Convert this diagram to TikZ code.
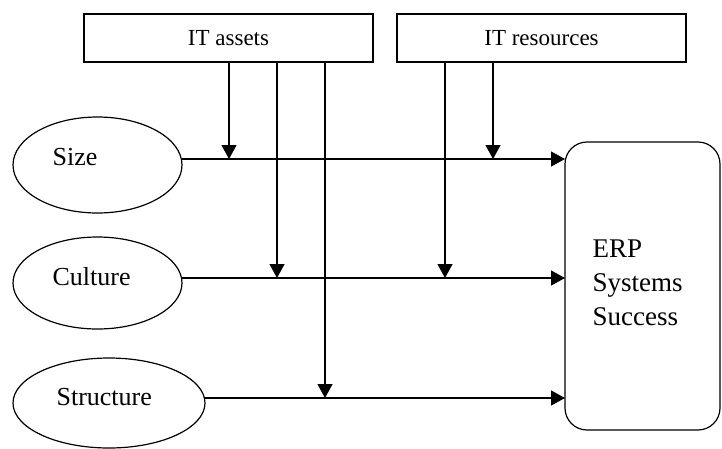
\documentclass[tikz,border=0pt]{standalone}
\usepackage{fontspec}
\setmainfont{Liberation Serif}
\usetikzlibrary{shapes.geometric,arrows.meta,calc}

\begin{document}
\begin{tikzpicture}[x=1pt,y=-1pt,
  line width=1.2pt,
  topbox/.style={draw, rectangle, inner sep=0pt, outer sep=0pt,
    font=\fontsize{23}{27}\selectfont},
  factor/.style={draw, ellipse, inner sep=0pt, outer sep=0pt},
  lbl/.style={inner sep=0pt, anchor=base west, font=\fontsize{26}{30}\selectfont},
  outcome/.style={draw, rectangle, rounded corners=22pt, inner sep=0pt, outer sep=0pt},
  arr/.style={-{Triangle[length=14pt,width=15pt]}}
]
\useasboundingbox (0,0) rectangle (722,448);

% moderating boxes on top
\node[topbox, minimum width=289, minimum height=48] (assets) at (228.5,38) {IT assets};
\node[topbox, minimum width=289, minimum height=48] (res) at (541.5,38) {IT resources};

% organisational factors
\node[factor, minimum width=169, minimum height=96] (size) at (97.5,165) {};
\node[factor, minimum width=169, minimum height=92] (cult) at (97.5,283) {};
\node[factor, minimum width=192, minimum height=90] (struc) at (109,403) {};
\node[lbl] (sizet) at (52,165) {Size};
\node[lbl] (cultt) at (52,285) {Culture};
\node[lbl] (struct) at (56,405) {Structure};

% outcome box
\node[outcome, minimum width=155, minimum height=288] (erp) at (642.5,286) {};
\node[inner sep=0pt, align=left, anchor=north west,
  font=\fontsize{27}{34}\selectfont] (erpt) at (592,239) {ERP\\Systems\\Success};

% line heights of the three paths
\coordinate (ysize) at (0,159);
\coordinate (ycult) at (0,278);
\coordinate (ystruc) at (0,398);

% main paths into the outcome box
\draw[arr] (size.east |- ysize) -- (erp.west |- ysize);
\draw[arr] (cult.east |- ycult) -- (erp.west |- ycult);
\draw[arr] (struc.east |- ystruc) -- (erp.west |- ystruc);

% moderating effects
\coordinate (a1) at (229,62);
\coordinate (a2) at (277,62);
\coordinate (a3) at (325,62);
\coordinate (r1) at (445,62);
\coordinate (r2) at (493,62);
\draw[arr] (assets.south -| a1) -- (a1 |- ysize);
\draw[arr] (assets.south -| a2) -- (a2 |- ycult);
\draw[arr] (assets.south -| a3) -- (a3 |- ystruc);
\draw[arr] (res.south -| r1) -- (r1 |- ycult);
\draw[arr] (res.south -| r2) -- (r2 |- ysize);
\end{tikzpicture}
\end{document}
